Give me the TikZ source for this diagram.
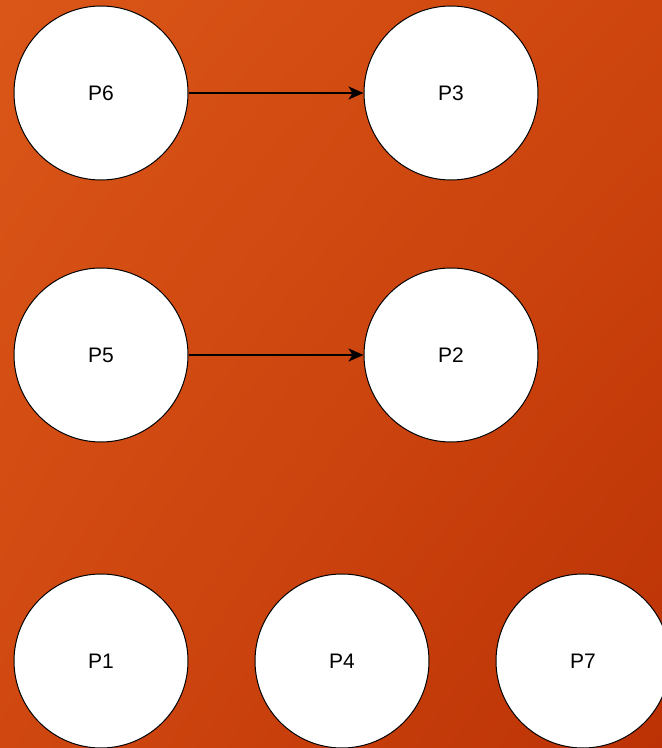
\documentclass[tikz,border=0pt]{standalone}
\usepackage{fontspec}
\setmainfont{Liberation Sans}
\usetikzlibrary{arrows.meta,shadings}
\definecolor{bgUL}{RGB}{218,86,24}
\definecolor{bgUR}{RGB}{206,70,14}
\definecolor{bgLL}{RGB}{208,72,16}
\definecolor{bgLR}{RGB}{188,50,6}
\begin{document}
\begin{tikzpicture}[x=1pt,y=1pt,
  proc/.style={circle,draw=black,line width=1pt,fill=white,minimum size=174pt,inner sep=0pt,font=\fontsize{21}{25}\selectfont},
  conn/.style={-{Stealth[length=15pt,width=13pt,inset=4pt]},line width=1.7pt,black}]
\shade[upper left=bgUL,upper right=bgUR,lower left=bgLL,lower right=bgLR] (0,0) rectangle (662,748);
\useasboundingbox (0,0) rectangle (662,748);
\node[proc] (p6) at (101,655) {P6};
\node[proc] (p3) at (451,655) {P3};
\node[proc] (p5) at (101,393) {P5};
\node[proc] (p2) at (451,393) {P2};
\node[proc] (p1) at (101,87) {P1};
\node[proc] (p4) at (342,87) {P4};
\node[proc] (p7) at (583,87) {P7};
\draw[conn] (p6) -- (p3);
\draw[conn] (p5) -- (p2);
\end{tikzpicture}
\end{document}
